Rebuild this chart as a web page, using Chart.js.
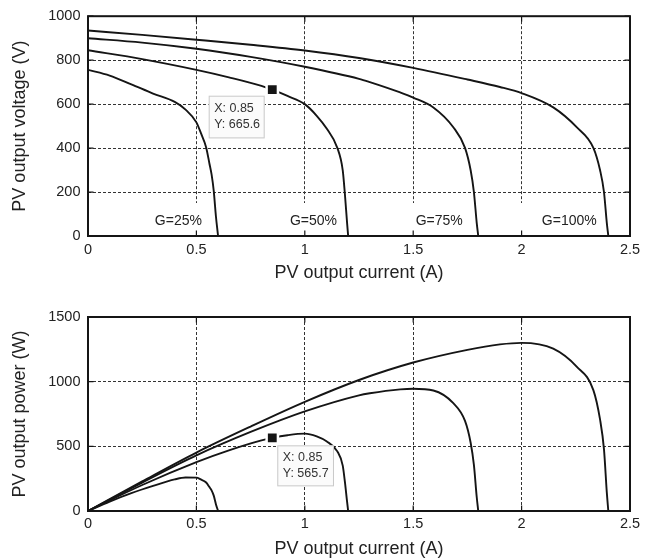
<!DOCTYPE html>
<html>
<head>
<meta charset="utf-8">
<script src="https://cdn.jsdelivr.net/npm/chart.js@4.4.1/dist/chart.umd.min.js"></script>
<style>
    body { margin: 0; background: #fff; }
    #top_box { position: absolute; left: 0; top: 0; width: 654px; height: 290px; }
    #bot_box { position: absolute; left: 0; top: 290px; width: 654px; height: 270px; }
</style>
</head>
<body>
<div id="top_box"><canvas id="vi_chart"></canvas></div>
<div id="bot_box"><canvas id="pi_chart"></canvas></div>
<script>
// irradiance levels
var gLabels = ['G=25%', 'G=50%', 'G=75%', 'G=100%'];

// current samples (A) for each curve
var i25  = [0, 0.1, 0.2, 0.3, 0.4, 0.45, 0.5, 0.52, 0.545, 0.56, 0.57, 0.58, 0.59, 0.6];
var i50  = [0, 0.25, 0.5, 0.65, 0.8, 0.85, 0.92, 1.0, 1.055, 1.1, 1.15, 1.175, 1.185, 1.195, 1.2];
var i75  = [0, 0.25, 0.5, 0.75, 1.0, 1.25, 1.3, 1.44, 1.5, 1.593, 1.685, 1.739, 1.765, 1.78, 1.793, 1.8];
var i100 = [0, 0.25, 0.5, 0.75, 1.0, 1.25, 1.5, 1.75, 1.9, 2.0, 2.146, 2.254, 2.331, 2.362, 2.38, 2.393, 2.4];

// output voltage (V)
var v25  = [756, 730, 690, 648, 610, 575, 517, 470, 403, 330, 280, 205, 90, 0];
var v50  = [845, 805, 756, 722, 683, 665.6, 637, 600, 547, 490, 401, 299, 190, 60, 0];
var v75  = [900, 880, 852, 815, 770, 715, 700, 653, 630, 585, 495, 401, 299, 200, 60, 0];
var v100 = [935, 915, 893, 870, 844, 810, 765, 712, 678, 650, 585, 495, 401, 299, 200, 60, 0];

// output power (W)
var p25  = [0, 73, 138, 194, 244, 259, 258, 244, 220, 185, 160, 119, 53, 0];
var p50  = [0, 201, 378, 469, 546, 565.7, 586, 598, 577, 539, 461, 351, 225, 72, 0];
var p75  = [0, 220, 430, 611, 770, 894, 910, 940, 945, 932, 834, 697, 528, 356, 108, 0];
var p100 = [0, 229, 452, 653, 844, 1013, 1148, 1246, 1288, 1300, 1255, 1116, 935, 706, 476, 144, 0];

// data tip
var tipI = 0.85;
var tipV = 665.6;
var tipP = 565.7;

// tick labels
var xTickLabels = ['0', '0.5', '1', '1.5', '2', '2.5'];
var vTickLabels = ['0', '200', '400', '600', '800', '1000'];
var pTickLabels = ['0', '500', '1000', '1500'];

Chart.defaults.font.family = "'Liberation Sans', Arial, sans-serif";
Chart.defaults.color = '#222';

function toPoints(xs, ys) {
    var pts = [];
    for (var k = 0; k < xs.length; k++) {
        pts.push({ x: xs[k], y: ys[k] });
    }
    return pts;
}

function curve(xs, ys) {
    return {
        data: toPoints(xs, ys),
        showLine: true,
        borderColor: '#151515',
        borderWidth: 1.9,
        pointRadius: 0,
        cubicInterpolationMode: 'monotone',
        fill: false
    };
}

function marker(x, y) {
    return {
        data: [{ x: x, y: y }],
        showLine: false,
        pointStyle: 'rect',
        pointRadius: 8,
        pointBackgroundColor: '#151515',
        pointBorderColor: '#fff',
        pointBorderWidth: 2.5,
        order: -1
    };
}

// matlab style box with inward ticks
var framePlugin = {
    id: 'frame',
    afterDraw: function (chart) {
        var ctx = chart.ctx, a = chart.chartArea;
        var xs = chart.scales.x, ys = chart.scales.y;
        var tl = 5.5;
        ctx.save();
        ctx.strokeStyle = '#151515';
        ctx.lineWidth = 1.2;
        ctx.beginPath();
        xs.ticks.forEach(function (t) {
            var px = xs.getPixelForValue(t.value);
            ctx.moveTo(px, a.bottom); ctx.lineTo(px, a.bottom - tl);
            ctx.moveTo(px, a.top); ctx.lineTo(px, a.top + tl);
        });
        ys.ticks.forEach(function (t) {
            var py = ys.getPixelForValue(t.value);
            ctx.moveTo(a.left, py); ctx.lineTo(a.left + tl, py);
            ctx.moveTo(a.right, py); ctx.lineTo(a.right - tl, py);
        });
        ctx.stroke();
        ctx.lineWidth = 2;
        ctx.strokeRect(a.left, a.top, a.right - a.left, a.bottom - a.top);
        ctx.restore();
    }
};

// G=.. labels with white background
var gLabelPlugin = {
    id: 'glabels',
    beforeDatasetsDraw: function (chart, args, opts) {
        if (!opts.xs) return;
        var ctx = chart.ctx, a = chart.chartArea;
        var xs = chart.scales.x, ys = chart.scales.y;
        ctx.save();
        ctx.font = "14px 'Liberation Sans', Arial, sans-serif";
        for (var k = 0; k < gLabels.length; k++) {
            var cx = xs.getPixelForValue(opts.xs[k]);
            var cy = ys.getPixelForValue(opts.y);
            var w = ctx.measureText(gLabels[k]).width;
            var grid = xs.getPixelForValue(0.5 * (k + 1));
            var left = Math.min(cx - w / 2, grid) - 4;
            var right = cx + w / 2 + 3;
            ctx.fillStyle = '#fff';
            ctx.fillRect(left, a.bottom - 33, right - left, 32);
            ctx.fillStyle = '#222';
            ctx.textAlign = 'center';
            ctx.textBaseline = 'middle';
            ctx.fillText(gLabels[k], cx, cy);
        }
        ctx.restore();
    }
};

// data tip box
var tipPlugin = {
    id: 'tip',
    afterDatasetsDraw: function (chart, args, opts) {
        if (!opts.lines) return;
        var ctx = chart.ctx;
        var px = chart.scales.x.getPixelForValue(opts.x);
        var py = chart.scales.y.getPixelForValue(opts.y);
        var bx = px + opts.dx, by = py + opts.dy;
        ctx.save();
        ctx.fillStyle = '#fbfbfb';
        ctx.strokeStyle = '#c9c9c9';
        ctx.lineWidth = 1;
        ctx.fillRect(bx, by, opts.w, opts.h);
        ctx.strokeRect(bx + 0.5, by + 0.5, opts.w - 1, opts.h - 1);
        ctx.fillStyle = '#333';
        ctx.font = "12.5px 'Liberation Sans', Arial, sans-serif";
        ctx.textAlign = 'left';
        ctx.textBaseline = 'middle';
        ctx.fillText(opts.lines[0], bx + 5.5, by + opts.h * 0.31);
        ctx.fillText(opts.lines[1], bx + 5.5, by + opts.h * 0.68);
        ctx.restore();
    }
};

function getChartJs(datasets, ax) {
    return {
        type: 'scatter',
        data: { datasets: datasets },
        options: {
            responsive: true,
            maintainAspectRatio: false,
            animation: false,
            layout: { padding: { left: 0, right: 24, top: ax.padTop, bottom: 0 } },
            plugins: {
                legend: { display: false },
                tooltip: { enabled: false },
                glabels: ax.glabels || {},
                tip: ax.tip
            },
            scales: {
                x: {
                    type: 'linear',
                    min: 0, max: 2.5,
                    ticks: {
                        stepSize: 0.5,
                        padding: ax.xTickPad,
                        font: { size: 14.5 },
                        maxRotation: 0,
                        callback: function (v, i) { return xTickLabels[i]; }
                    },
                    grid: { color: '#333', lineWidth: 1, drawTicks: false },
                    border: { display: false, dash: [3, 2] },
                    title: {
                        display: true,
                        text: 'PV output current (A)',
                        font: { size: 18 },
                        padding: { top: 0, bottom: ax.xTitlePad }
                    },
                    afterFit: function (s) { s.height = ax.xHeight; }
                },
                y: {
                    type: 'linear',
                    min: 0, max: ax.yMax,
                    ticks: {
                        stepSize: ax.yStep,
                        padding: 7.5,
                        font: { size: 14.5 },
                        callback: function (v, i) { return ax.yTicks[i]; }
                    },
                    grid: { color: '#333', lineWidth: 1, drawTicks: false },
                    border: { display: false, dash: [3, 2] },
                    title: {
                        display: true,
                        text: ax.yTitle,
                        font: { size: 18 },
                        padding: { top: 9, bottom: 0 }
                    },
                    afterFit: function (s) { s.width = 88; }
                }
            }
        },
        plugins: [gLabelPlugin, tipPlugin, framePlugin]
    };
}

(function () {
    var viSets = [
        marker(tipI, tipV),
        curve(i25, v25), curve(i50, v50), curve(i75, v75), curve(i100, v100)
    ];
    new Chart(document.getElementById('vi_chart').getContext('2d'), getChartJs(viSets, {
        padTop: 15, xHeight: 54, xTickPad: 5, xTitlePad: 6.5,
        yMax: 1000, yStep: 200, yTicks: vTickLabels,
        yTitle: 'PV output voltage (V)',
        glabels: { xs: [0.417, 1.04, 1.62, 2.22], y: 69 },
        tip: { x: tipI, y: tipV, dx: -63.6, dy: 6, w: 56, h: 42.7,
               lines: ['X: ' + tipI, 'Y: ' + tipV] }
    }));

    var piSets = [
        marker(tipI, tipP),
        curve(i25, p25), curve(i50, p50), curve(i75, p75), curve(i100, p100)
    ];
    new Chart(document.getElementById('pi_chart').getContext('2d'), getChartJs(piSets, {
        padTop: 27, xHeight: 49, xTickPad: 4, xTitlePad: 0,
        yMax: 1500, yStep: 500, yTicks: pTickLabels,
        yTitle: 'PV output power (W)',
        tip: { x: tipI, y: tipP, dx: 5, dy: 7.5, w: 56.7, h: 41,
               lines: ['X: ' + tipI, 'Y: ' + tipP] }
    }));
})();
</script>
</body>
</html>
